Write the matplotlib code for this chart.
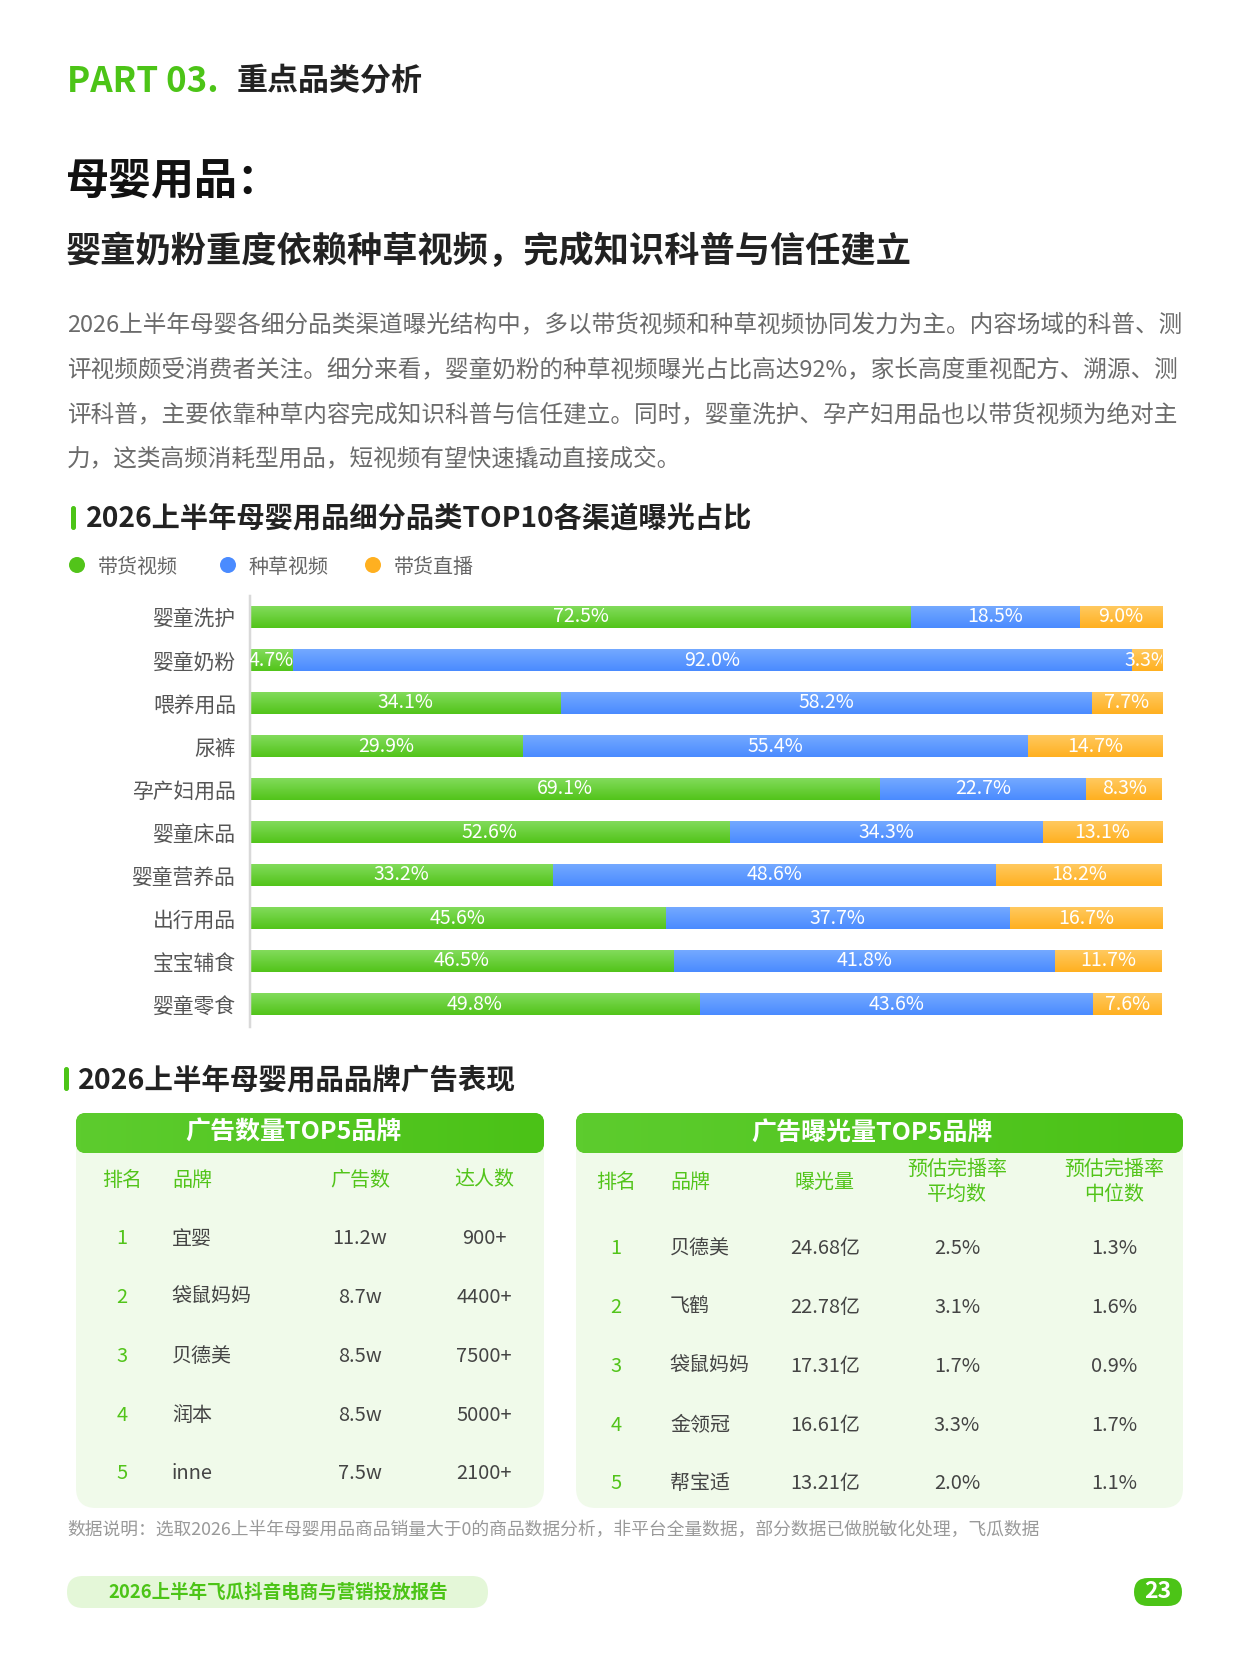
import numpy as np
import matplotlib
matplotlib.use('Agg')
import matplotlib.pyplot as plt
from matplotlib.patches import FancyBboxPatch, Circle
from matplotlib.colors import LinearSegmentedColormap

plt.rcParams['font.family'] = ['Noto Sans CJK SC', 'DejaVu Sans']

# ---------------- data ----------------
categories = ['婴童洗护', '婴童奶粉', '喂养用品', '尿裤', '孕产妇用品',
              '婴童床品', '婴童营养品', '出行用品', '宝宝辅食', '婴童零食']
series_names = ['带货视频', '种草视频', '带货直播']
goods_video = [72.5, 4.7, 34.1, 29.9, 69.1, 52.6, 33.2, 45.6, 46.5, 49.8]
grass_video = [18.5, 92.0, 58.2, 55.4, 22.7, 34.3, 48.6, 37.7, 41.8, 43.6]
live_stream = [9.0, 3.3, 7.7, 14.7, 8.3, 13.1, 18.2, 16.7, 11.7, 7.6]

ad_cols = ['排名', '品牌', '广告数', '达人数']
ad_rank = ['1', '2', '3', '4', '5']
ad_brands = ['宜婴', '袋鼠妈妈', '贝德美', '润本', 'inne']
ad_counts = ['11.2w', '8.7w', '8.5w', '8.5w', '7.5w']
ad_talents = ['900+', '4400+', '7500+', '5000+', '2100+']

exp_cols = ['排名', '品牌', '曝光量', '预估完播率\n平均数', '预估完播率\n中位数']
exp_rank = ['1', '2', '3', '4', '5']
exp_brands = ['贝德美', '飞鹤', '袋鼠妈妈', '金领冠', '帮宝适']
exp_volume = ['24.68亿', '22.78亿', '17.31亿', '16.61亿', '13.21亿']
exp_avg = ['2.5%', '3.1%', '1.7%', '3.3%', '2.0%']
exp_median = ['1.3%', '1.6%', '0.9%', '1.7%', '1.1%']

paragraph = [
    '2026上半年母婴各细分品类渠道曝光结构中，多以带货视频和种草视频协同发力为主。内容场域的科普、测',
    '评视频颇受消费者关注。细分来看，婴童奶粉的种草视频曝光占比高达92%，家长高度重视配方、溯源、测',
    '评科普，主要依靠种草内容完成知识科普与信任建立。同时，婴童洗护、孕产妇用品也以带货视频为绝对主',
    '力，这类高频消耗型用品，短视频有望快速撬动直接成交。',
]

GREEN = '#52C41A'
grads = [('#82DB5B', '#52C41A'), ('#74A9FF', '#4A8BFF'), ('#FFC95F', '#FFB020')]
DARK = '#222222'
W, H = 1249, 1666

fig = plt.figure(figsize=(W / 100, H / 100), dpi=100)
fig.patch.set_facecolor('white')

# page canvas in pixel units
pg = fig.add_axes([0, 0, 1, 1])
pg.set_xlim(0, W)
pg.set_ylim(H, 0)
pg.axis('off')


def px(p):
    return p * 0.72


def hgrad(ax, patch, c1, c2, extent, vertical=False):
    cmap = LinearSegmentedColormap.from_list('g', [c1, c2])
    g = np.linspace(0, 1, 64)
    g = g.reshape(-1, 1) if vertical else g.reshape(1, -1)
    im = ax.imshow(g, cmap=cmap, aspect='auto', extent=extent, origin='upper',
                   zorder=patch.get_zorder() + 0.1, interpolation='bilinear')
    im.set_clip_path(patch)


# ---------------- header texts ----------------
pg.text(67, 81, 'PART 03.', color='#4CC417', fontsize=px(35), fontweight='black', va='center')
pg.text(237, 81, '重点品类分析', color=DARK, fontsize=px(31), fontweight='bold', va='center')
pg.text(66, 181, '母婴用品：', color='#111111', fontsize=px(43), fontweight='black', va='center')
pg.text(66, 251, '婴童奶粉重度依赖种草视频，完成知识科普与信任建立', color=DARK,
        fontsize=px(35.2), fontweight='bold', va='center')
for i, line in enumerate(paragraph):
    pg.text(67, 326 + i * 44.5, line, color='#6b6b6b', fontsize=px(23.6), va='center')

# section 1 title
pg.add_patch(FancyBboxPatch((71, 506), 5, 24, boxstyle='round,pad=0,rounding_size=2.5',
                            fc='#4CC417', ec='none'))
pg.text(86, 519, '2026上半年母婴用品细分品类TOP10各渠道曝光占比', color=DARK,
        fontsize=px(28.2), fontweight='bold', va='center')

# legend
for (nm, (ct, cb)), lx in zip(zip(series_names, grads), [77, 228, 373]):
    pg.add_patch(Circle((lx, 565), 8, fc=cb, ec='none'))
    pg.text(lx + 21, 567, nm, color='#666666', fontsize=px(20), va='center')

# ---------------- bar chart (percent stacked) ----------------
pitch = 43.0
top_px, bot_px = 596, 1027
ax = fig.add_axes([250 / W, 1 - bot_px / H, 912 / W, (bot_px - top_px) / H])
ax.set_facecolor('none')
n = len(categories)
ypos = np.arange(n)
bh = 22 / pitch
raw = np.array([goods_video, grass_video, live_stream])
share = raw / raw.sum(axis=0) * 100
left = np.zeros(n)
for vals, shr, (ct, cb) in zip(raw, share, grads):
    bars = ax.barh(ypos, shr, left=left, height=bh, color=cb, edgecolor='none', zorder=2)
    for b, v in zip(bars, vals):
        x0, y0, w, h = b.get_x(), b.get_y(), b.get_width(), b.get_height()
        hgrad(ax, b, ct, cb, [x0, x0 + w, y0 + h, y0], vertical=True)
        ax.text(x0 + w / 2, y0 + h / 2, f'{v:.1f}%', color='white', fontsize=px(19.5),
                ha='center', va='center', zorder=5, clip_on=True)
    left = left + shr
ax.set_xlim(0, 100)
ax.set_ylim(9 + (bot_px - 1004) / pitch, -(617 - top_px) / pitch)
ax.set_yticks(ypos, categories)
ax.tick_params(axis='y', length=0, pad=px(14), labelsize=px(20.8), labelcolor='#555555')
ax.set_xticks([])
for s in ['top', 'right', 'bottom']:
    ax.spines[s].set_visible(False)
ax.spines['left'].set_color('#d9d9d9')
ax.spines['left'].set_linewidth(px(2.5))

# section 2 title
pg.add_patch(FancyBboxPatch((64, 1067), 5, 24, boxstyle='round,pad=0,rounding_size=2.5',
                            fc='#4CC417', ec='none'))
pg.text(78, 1080, '2026上半年母婴用品品牌广告表现', color=DARK,
        fontsize=px(28.5), fontweight='bold', va='center')


# ---------------- tables ----------------
def table_frame(x0, x1, title, tx):
    body = FancyBboxPatch((x0, 1128), x1 - x0, 1508 - 1128,
                          boxstyle='round,pad=0,rounding_size=20', fc='#F0FAEA', ec='none', zorder=1)
    pg.add_patch(body)
    head = FancyBboxPatch((x0, 1113), x1 - x0, 1153 - 1113,
                          boxstyle='round,pad=0,rounding_size=10', fc=GREEN, ec='none', zorder=2)
    pg.add_patch(head)
    hgrad(pg, head, '#5DCC2E', '#4BC217', [x0, x1, 1153, 1113])
    pg.text(tx, 1133, title, color='white', fontsize=px(25), fontweight='bold',
            ha='center', va='center', zorder=4)


table_frame(76, 544, '广告数量TOP5品牌', 294)
table_frame(576, 1183, '广告曝光量TOP5品牌', 872)

fs_cell = px(20)
# left table
lcol_x = [122, 172, 360, 484]
lcol_ha = ['center', 'left', 'center', 'center']
for c, cx, ha in zip(ad_cols, lcol_x, lcol_ha):
    pg.text(cx, 1180, c, color=GREEN, fontsize=fs_cell, ha=ha, va='center', zorder=4)
for r in range(len(ad_rank)):
    yy = 1239 + r * 58.7
    row = [ad_rank[r], ad_brands[r], ad_counts[r], ad_talents[r]]
    for k, (val, cx, ha) in enumerate(zip(row, lcol_x, lcol_ha)):
        pg.text(cx, yy, val, color=GREEN if k == 0 else '#444444', fontsize=fs_cell,
                ha=ha, va='center', zorder=4)

# right table
rcol_x = [616, 670, 825, 957, 1114]
rcol_ha = ['center', 'left', 'center', 'center', 'center']
for c, cx, ha in zip(exp_cols, rcol_x, rcol_ha):
    pg.text(cx, 1182, c, color=GREEN, fontsize=fs_cell, ha=ha, va='center',
            linespacing=1.25, zorder=4)
for r in range(len(exp_rank)):
    yy = 1249 + r * 58.7
    row = [exp_rank[r], exp_brands[r], exp_volume[r], exp_avg[r], exp_median[r]]
    for k, (val, cx, ha) in enumerate(zip(row, rcol_x, rcol_ha)):
        pg.text(cx, yy, val, color=GREEN if k == 0 else '#444444', fontsize=fs_cell,
                ha=ha, va='center', zorder=4)

# footnote
pg.text(67, 1530, '数据说明：选取2026上半年母婴用品商品销量大于0的商品数据分析，非平台全量数据，部分数据已做脱敏化处理，飞瓜数据',
        color='#999999', fontsize=px(17.8), va='center')

# footer
pg.add_patch(FancyBboxPatch((67, 1576), 421, 32, boxstyle='round,pad=0,rounding_size=16',
                            fc='#E4F7D8', ec='none'))
pg.text(278, 1592, '2026上半年飞瓜抖音电商与营销投放报告', color='#4CC417',
        fontsize=px(18.5), fontweight='bold', ha='center', va='center')
pg.add_patch(FancyBboxPatch((1134, 1578), 48, 28, boxstyle='round,pad=0,rounding_size=14',
                            fc='#4CC417', ec='none'))
pg.text(1158, 1592, '23', color='white', fontsize=px(23), fontweight='black',
        ha='center', va='center')

fig.savefig('out.png', dpi=100, facecolor='white')
